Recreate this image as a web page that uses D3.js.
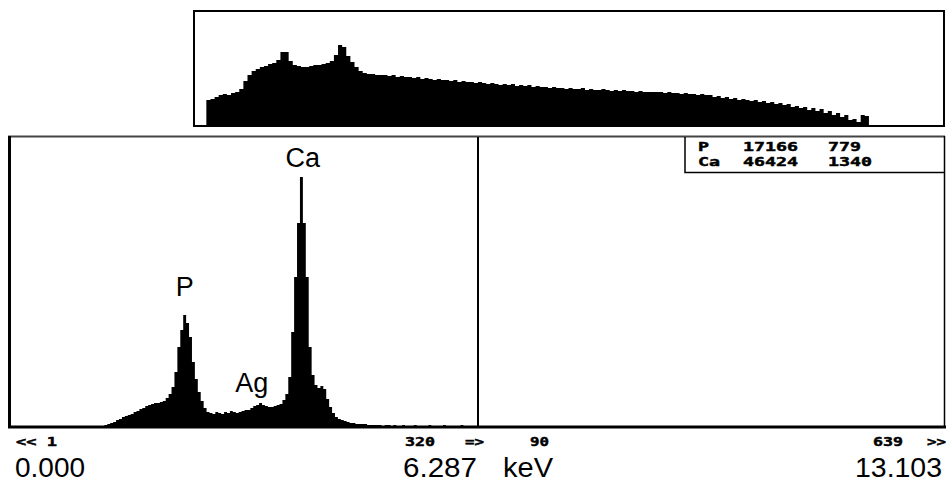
<!DOCTYPE html>
<html>
<head>
<meta charset="utf-8">
<script src="https://d3js.org/d3.v7.min.js"></script>
<style>
  body { margin: 0; background: #fff; }
  .big { font-family: "Liberation Sans", Arial, sans-serif; fill: #000; }
  .px  { font-family: "DejaVu Sans Mono", monospace; font-weight: bold; fill: #000; stroke: #000; stroke-width: 0.45; }
</style>
</head>
<body>
<script>
// main spectrum, counts per 2-channel bin (bin 0 = channel 0)
var mainCounts = [
  0,0,0,0,0,0,0,0,0,0, 0,0,0,0,0,0,0,0,0,0, 0,0,0,0,0,0,0,0,0,0,
  0,1,2,3,4,5,7,8,10,11,12,13,15,16,18,19,21,22,23,24,
  24,25,26,29,33,40,55,80,97,112,104,90,65,48,35,26,19,15,14,13,
  15,14,13,15,14,16,15,14,15,16,17,17,19,21,22,24,22,21,20,20,
  21,22,23,27,33,50,95,150,204,250,204,150,80,52,42,39,41,38,28,20,
  14,10,8,7,6,5,4,4,3,3,3,3,2,2,2,2,2,1,2,2,
  1,2,1,1,2,1,1,1,2,1,1,1,1,2,1,1,1,1,2,1,
  1,1,1,1,2,1,1,1,1,1,1,0,1,1,0,1,1,0,1,0,
  1,0,1,1,0,1,0,1,0,0,1,0,1,0,0,0,1,0,0,1,
  0,0,1,0,0,0,0,1,0,0,0,0,0,0,1,0,0,0,0,0
];
// overview spectrum (top window), counts per bin
var overviewCounts = [
  0,0,0,25,26,28,30,31,30,32,33,36,44,50,54,56,58,59,61,62,
  65,73,73,64,60,59,58,58,59,60,60,61,62,64,70,80,78,69,63,58,
  54,52,51,51,50,50,50,49,50,48,49,48,48,47,48,46,47,46,45,46,
  45,45,44,45,43,44,43,43,42,43,42,41,42,41,40,41,40,41,39,40,
  39,40,38,39,38,38,37,38,37,37,36,37,36,36,37,35,36,35,35,36,
  35,34,35,34,35,34,34,33,34,33,33,33,33,33,32,33,32,32,31,32,
  31,31,30,31,30,30,28,29,27,28,26,27,25,26,25,24,25,23,24,22,
  23,21,22,20,21,18,19,17,18,15,17,14,16,12,14,10,12,8,10,5,
  6,3,10,9,0
];
var peakNames = ["P", "Ag", "Ca"];
var peakBins  = [59.5, 82.5, 100];
var peakLabelCounts = [131, 35, 260];
var tableRows = [["P", "17166", "779"], ["Ca", "46424", "1340"]];
var energyLabels = ["0.000", "6.287", "13.103"];
var channelLabels = ["<< 1", "320", "=>", "90", "639", ">>"];
var unitLabel = "keV";
var cursorBin = 160;

var W = 948, H = 482;
var svg = d3.select("body").append("svg").attr("width", W).attr("height", H);

/* overview window */
var ox = d3.scaleLinear().domain([0, 182]).range([194, 943]);
var oy = d3.scaleLinear().domain([0, 113]).range([125, 12]);
var oArea = d3.area().curve(d3.curveStepAfter)
  .x(function(d, i) { return ox(i); })
  .y0(oy(0))
  .y1(function(d) { return oy(d); });
svg.append("path").datum(overviewCounts).attr("d", oArea).attr("fill", "#000");
svg.append("rect").attr("x", 194).attr("y", 11).attr("width", 750).attr("height", 115)
  .attr("fill", "none").attr("stroke", "#000").attr("stroke-width", 2);

/* main window */
var x = d3.scaleLinear().domain([0, 320]).range([11, 945]);
var y = d3.scaleLinear().domain([0, 290]).range([427, 137]);
var mArea = d3.area().curve(d3.curveStepAfter)
  .x(function(d, i) { return x(i); })
  .y0(y(0))
  .y1(function(d) { return y(d); });
svg.append("path").datum(mainCounts).attr("d", mArea).attr("fill", "#000");

// frame
svg.append("line").attr("x1", 8).attr("x2", 945).attr("y1", 136.5).attr("y2", 136.5)
  .attr("stroke", "#444").attr("stroke-width", 2);
svg.append("line").attr("x1", 9.5).attr("x2", 9.5).attr("y1", 136).attr("y2", 428)
  .attr("stroke", "#000").attr("stroke-width", 3);
svg.append("line").attr("x1", 944.5).attr("x2", 944.5).attr("y1", 136).attr("y2", 428)
  .attr("stroke", "#000").attr("stroke-width", 1.5);
svg.append("line").attr("x1", 8).attr("x2", 946).attr("y1", 427).attr("y2", 427)
  .attr("stroke", "#000").attr("stroke-width", 3);

// cursor
svg.append("line").attr("x1", x(cursorBin)).attr("x2", x(cursorBin))
  .attr("y1", 137).attr("y2", 427).attr("stroke", "#000").attr("stroke-width", 2);

// peak labels
svg.append("g").selectAll("text").data(peakNames).join("text")
  .attr("class", "big")
  .attr("x", function(d, i) { return x(peakBins[i]); })
  .attr("y", function(d, i) { return y(peakLabelCounts[i]); })
  .attr("text-anchor", "middle")
  .attr("font-size", 27)
  .text(function(d) { return d; });

// result table
svg.append("path").attr("d", "M685,137V172.5H945")
  .attr("fill", "none").attr("stroke", "#000").attr("stroke-width", 1.5);
var colX = [698, 743, 828];
tableRows.forEach(function(row, r) {
  row.forEach(function(t, c) {
    svg.append("text").attr("class", "px")
      .attr("x", colX[c]).attr("y", 151 + r * 15)
      .attr("font-size", 12)
      .attr("textLength", t.length * 11).attr("lengthAdjust", "spacingAndGlyphs")
      .text(t);
  });
});

// channel labels
var chX = [16, 405, 465, 530, 873, 927];
channelLabels.forEach(function(t, i) {
  svg.append("text").attr("class", "px")
    .attr("x", chX[i]).attr("y", 446)
    .attr("font-size", 12.5)
    .attr("textLength", t.length * 11 - 3)
    .attr("lengthAdjust", "spacingAndGlyphs")
    .text(t);
});

// energy labels
var eX = [15, 403, 855], eW = [70, 74, 87];
energyLabels.forEach(function(t, i) {
  svg.append("text").attr("class", "big").attr("x", eX[i]).attr("y", 477)
    .attr("font-size", 28)
    .attr("textLength", eW[i]).attr("lengthAdjust", "spacingAndGlyphs")
    .text(t);
});
svg.append("text").attr("class", "big").attr("x", 503).attr("y", 477)
  .attr("font-size", 28).attr("textLength", 50).attr("lengthAdjust", "spacingAndGlyphs")
  .text(unitLabel);
</script>
</body>
</html>
